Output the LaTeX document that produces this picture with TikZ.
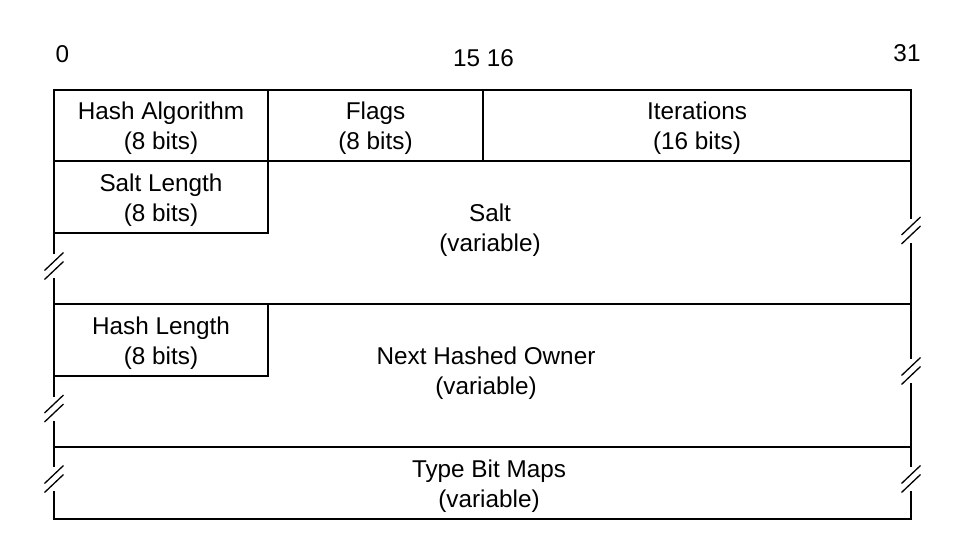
\documentclass[tikz,border=0pt]{standalone}
\usepackage{fontspec}
\setmainfont{Liberation Sans}
\usetikzlibrary{positioning}

\begin{document}
\begin{tikzpicture}[
  x=1pt, y=-1pt,
  every node/.style={font=\fontsize{24.3}{30}\selectfont, align=center, inner sep=0pt},
  frame/.style={line width=1.3pt, black},
  cutmark/.style={line width=1.3pt, black}
]
\useasboundingbox (0,0) rectangle (966,538);

% bit numbers
\node (bit0)  at (62.5,54)  {0};
\node (bit15) at (483.5,58.5) {15 16};
\node (bit31) at (907,53)   {31};

% outline and field borders
\draw[frame] (54,90) rectangle (911,519);
\draw[frame] (54,161) -- (911,161);
\draw[frame] (268,90) -- (268,233) -- (54,233);
\draw[frame] (483,90) -- (483,161);
\draw[frame] (54,304) -- (911,304);
\draw[frame] (268,304) -- (268,376) -- (54,376);
\draw[frame] (54,447) -- (911,447);

% break marks on the side lines
\foreach \bx/\by in {54/266, 54/408.5, 54/479, 911/230.5, 911/371, 911/479} {
  \fill[white] (\bx-4,\by-12) rectangle (\bx+4,\by+12);
  \draw[cutmark] (\bx-9.5,\by-4.5+9) -- (\bx+9.5,\by-4.5-9);
  \draw[cutmark] (\bx-9.5,\by+4.5+9) -- (\bx+9.5,\by+4.5-9);
}

% field labels
\node (algo)     at (161,128)   {Hash Algorithm\\(8 bits)};
\node (flags)    at (375.5,128) {Flags\\(8 bits)};
\node (iter)     at (697,128)   {Iterations\\(16 bits)};
\node (saltlen)  at (161,200)   {Salt Length\\(8 bits)};
\node (salt)     at (490,230)   {Salt\\(variable)};
\node (hashlen)  at (161,343)   {Hash Length\\(8 bits)};
\node (owner)    at (486,373)   {Next Hashed Owner\\(variable)};
\node (typemaps) at (489,486)   {Type Bit Maps\\(variable)};

\end{tikzpicture}
\end{document}
